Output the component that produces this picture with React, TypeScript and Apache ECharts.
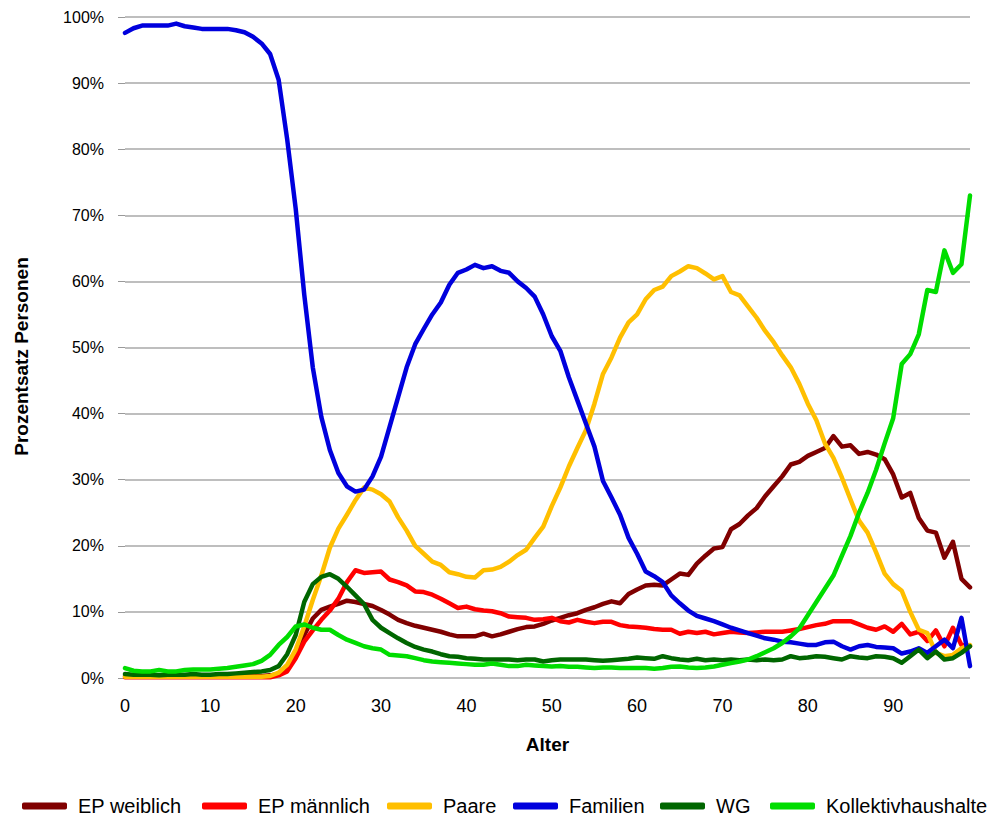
import React, { useEffect, useRef } from "react";
import * as echarts from "echarts";

const ages: string[] = Array.from({ length: 100 }, (_, i) => String(i));

const seriesNames = ["EP weiblich", "EP männlich", "Paare", "Familien", "WG", "Kollektivhaushalte"];
const seriesColors = ["#800000", "#ff0000", "#ffbf00", "#0000dd", "#006600", "#00dd00"];

const epWeiblich = [
  0.3, 0.3, 0.3, 0.3, 0.3, 0.3, 0.3, 0.3, 0.3, 0.3,
  0.3, 0.3, 0.3, 0.3, 0.3, 0.3, 0.3, 0.4, 0.6, 1.5,
  3.5, 6.5, 9.0, 10.3, 10.8, 11.2, 11.7, 11.5, 11.2, 10.9,
  10.3, 9.6, 8.8, 8.3, 7.9, 7.6, 7.3, 7.0, 6.6, 6.3,
  6.3, 6.3, 6.7, 6.3, 6.6, 7.0, 7.4, 7.7, 7.8, 8.2,
  8.7, 9.1, 9.5, 9.8, 10.3, 10.7, 11.2, 11.6, 11.3, 12.7,
  13.4, 14.0, 14.1, 14.0, 14.9, 15.8, 15.6, 17.3, 18.5, 19.6,
  19.8, 22.5, 23.3, 24.6, 25.7, 27.5, 29.0, 30.5, 32.3, 32.7,
  33.6, 34.2, 34.8, 36.6, 35.0, 35.2, 33.9, 34.2, 33.8, 33.1,
  30.8, 27.3, 28.0, 24.2, 22.3, 22.0, 18.2, 20.6, 15.0, 13.7,
];

const epMaennlich = [
  0.1, 0.1, 0.1, 0.1, 0.1, 0.1, 0.1, 0.1, 0.1, 0.1,
  0.1, 0.1, 0.1, 0.1, 0.1, 0.1, 0.1, 0.1, 0.4, 1.0,
  3.0, 5.5, 7.2, 8.8, 10.2, 12.0, 14.5, 16.3, 15.9, 16.0,
  16.1, 14.9, 14.5, 14.0, 13.1, 13.0, 12.6, 12.0, 11.3, 10.6,
  10.8, 10.4, 10.2, 10.1, 9.8, 9.3, 9.2, 9.1, 8.8, 8.9,
  9.1, 8.6, 8.4, 8.8, 8.5, 8.3, 8.5, 8.5, 8.0, 7.8,
  7.7, 7.6, 7.4, 7.3, 7.3, 6.7, 7.0, 6.8, 7.0, 6.6,
  6.8, 7.0, 6.9, 6.8, 6.9, 7.0, 7.0, 7.0, 7.2, 7.4,
  7.7, 8.0, 8.2, 8.6, 8.6, 8.6, 8.1, 7.6, 7.3, 7.8,
  7.0, 8.2, 6.6, 7.0, 5.6, 7.2, 4.8, 7.6, 5.0, 4.8,
];

const paare = [
  0.2, 0.2, 0.2, 0.2, 0.2, 0.2, 0.2, 0.2, 0.2, 0.2,
  0.2, 0.2, 0.2, 0.2, 0.2, 0.2, 0.2, 0.3, 0.8, 2.0,
  4.3, 7.8, 11.8, 15.5, 19.7, 22.6, 24.7, 26.9, 28.8, 28.5,
  27.8, 26.7, 24.3, 22.3, 20.0, 18.8, 17.6, 17.1, 16.0, 15.7,
  15.3, 15.2, 16.3, 16.4, 16.8, 17.6, 18.6, 19.4, 21.2, 22.9,
  26.0, 28.8, 32.0, 34.8, 37.5, 41.5, 46.0, 48.5, 51.5, 53.8,
  55.0, 57.3, 58.7, 59.2, 60.8, 61.5, 62.3, 62.0, 61.2, 60.3,
  60.8, 58.4, 57.9, 56.2, 54.5, 52.5, 50.8, 48.8, 47.0, 44.5,
  41.5, 39.0, 35.5, 33.3, 30.3, 27.0, 23.8, 22.0, 19.0, 15.8,
  14.2, 13.2, 10.0, 7.3, 6.8, 3.8, 3.3, 3.5, 4.5, 5.0,
];

const familien = [
  97.6, 98.3, 98.7, 98.7, 98.7, 98.7, 99.0, 98.6, 98.4, 98.2,
  98.2, 98.2, 98.2, 98.0, 97.7, 97.0, 96.0, 94.4, 90.5, 81.5,
  71.0, 58.0, 47.0, 39.5, 34.5, 31.0, 29.0, 28.2, 28.5, 30.5,
  33.5, 38.0, 42.5, 47.0, 50.5, 52.8, 55.0, 56.8, 59.5, 61.3,
  61.8, 62.5, 62.0, 62.3, 61.6, 61.3, 60.0, 59.0, 57.7, 55.0,
  51.7, 49.5, 45.5, 42.0, 38.5, 35.0, 29.8, 27.3, 24.7, 21.2,
  18.8, 16.1, 15.4, 14.5, 12.5, 11.3, 10.2, 9.4, 9.0, 8.6,
  8.1, 7.6, 7.2, 6.8, 6.4, 6.0, 5.8, 5.5, 5.4, 5.2,
  5.0, 5.0, 5.4, 5.5, 4.8, 4.3, 4.8, 5.0, 4.7, 4.6,
  4.5, 3.7, 4.0, 4.5, 3.8, 4.8, 5.8, 4.5, 9.1, 1.8,
];

const wg = [
  0.6, 0.5, 0.5, 0.5, 0.4, 0.5, 0.5, 0.5, 0.6, 0.5,
  0.5, 0.6, 0.6, 0.7, 0.8, 0.9, 1.0, 1.2, 1.8, 3.6,
  6.5, 11.5, 14.2, 15.3, 15.7, 15.0, 13.8, 12.5, 11.2, 8.8,
  7.6, 6.8, 6.0, 5.3, 4.7, 4.3, 4.0, 3.6, 3.3, 3.2,
  3.0, 2.9, 2.8, 2.8, 2.8, 2.8, 2.7, 2.8, 2.8, 2.5,
  2.7, 2.8, 2.8, 2.8, 2.8, 2.7, 2.6, 2.7, 2.8, 2.9,
  3.1, 3.0, 2.9, 3.3, 3.0, 2.8, 2.7, 2.9, 2.7, 2.8,
  2.7, 2.8, 2.7, 2.8, 2.7, 2.8, 2.7, 2.8, 3.3, 3.0,
  3.1, 3.3, 3.2, 3.0, 2.8, 3.3, 3.1, 3.0, 3.3, 3.2,
  3.0, 2.3, 3.3, 4.3, 3.0, 4.0, 2.8, 3.0, 3.8, 4.8,
];

const kollektiv = [
  1.5, 1.1, 1.0, 1.0, 1.2, 1.0, 1.0, 1.2, 1.3, 1.3,
  1.3, 1.4, 1.5, 1.7, 1.9, 2.1, 2.6, 3.5, 5.0, 6.2,
  7.8, 8.1, 7.6, 7.3, 7.3, 6.5, 5.8, 5.3, 4.8, 4.5,
  4.3, 3.5, 3.4, 3.3, 3.0, 2.7, 2.5, 2.4, 2.3, 2.2,
  2.1, 2.0, 2.0, 2.2, 2.0, 1.8, 1.8, 2.0, 1.9, 1.8,
  1.75, 1.8, 1.7, 1.7, 1.6, 1.5, 1.6, 1.6, 1.5, 1.5,
  1.5, 1.5, 1.4, 1.5, 1.7, 1.75, 1.6, 1.5, 1.6, 1.75,
  2.0, 2.25, 2.5, 2.8, 3.3, 3.9, 4.5, 5.3, 6.3, 7.5,
  9.5, 11.5, 13.5, 15.5, 18.5, 21.5, 25.0, 28.0, 31.5, 35.5,
  39.3, 47.5, 49.0, 52.0, 58.7, 58.4, 64.7, 61.3, 62.6, 73.0,
];

const seriesData = [epWeiblich, epMaennlich, paare, familien, wg, kollektiv];
const legendLefts = [22, 202, 387, 513, 660, 770];

const FONT = "'Liberation Sans', Arial, Helvetica, sans-serif";

export default function App() {
  const ref = useRef<HTMLDivElement>(null);
  useEffect(() => {
    if (!ref.current) return;
    const chart = echarts.init(ref.current, null, { renderer: "svg" });
    chart.setOption({
      animation: false,
      backgroundColor: "#ffffff",
      textStyle: { fontFamily: FONT },
      grid: { left: 125, right: 25, top: 17, bottom: 142, containLabel: false },
      legend: seriesNames.map((n, i) => ({
        data: [n],
        left: legendLefts[i],
        top: 796,
        padding: 0,
        icon: "roundRect",
        itemWidth: 45,
        itemHeight: 7,
        selectedMode: false,
        textStyle: { fontFamily: FONT, fontSize: 20, color: "#000", padding: [0, 0, 0, 6] },
      })),
      xAxis: {
        type: "category",
        data: ages,
        boundaryGap: false,
        name: "Alter",
        nameLocation: "middle",
        nameGap: 57,
        nameTextStyle: { fontFamily: FONT, fontSize: 19, fontWeight: "bold", color: "#000" },
        axisLine: { show: false },
        axisTick: { show: false },
        axisLabel: { interval: 9, margin: 19, fontSize: 18, color: "#000", fontFamily: FONT },
        splitLine: { show: false },
      },
      yAxis: {
        type: "value",
        min: 0,
        max: 100,
        interval: 10,
        name: "Prozentsatz Personen",
        nameLocation: "middle",
        nameGap: 94,
        nameRotate: 90,
        nameTextStyle: {
          fontFamily: FONT,
          fontSize: 19,
          fontWeight: "bold",
          color: "#000",
          padding: [0, 18, 0, 0],
        },
        axisLine: { show: false },
        axisTick: { show: true, length: 7, lineStyle: { color: "#999999", width: 1 } },
        axisLabel: { formatter: "{value}%", margin: 21, fontSize: 16, color: "#000", fontFamily: FONT },
        splitLine: { show: true, lineStyle: { color: "#a8a8a8", width: 1.5 } },
      },
      series: seriesNames.map((n, i) => ({
        name: n,
        type: "line",
        data: seriesData[i],
        symbol: "none",
        smooth: false,
        color: seriesColors[i],
        lineStyle: { width: 4.5, color: seriesColors[i], cap: "round", join: "round" },
      })),
    });
    return () => chart.dispose();
  }, []);
  return <div ref={ref} style={{ position: "absolute", left: 0, top: 0, width: 995, height: 820 }} />;
}
